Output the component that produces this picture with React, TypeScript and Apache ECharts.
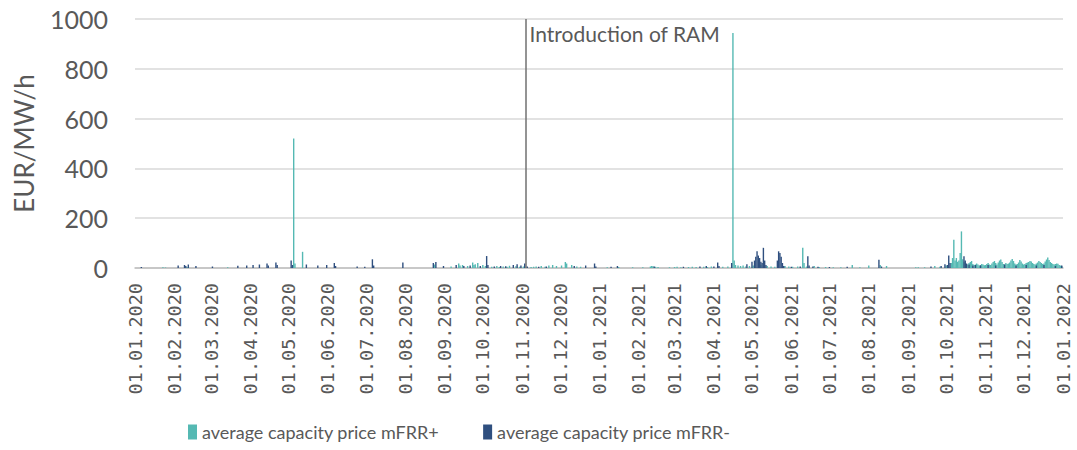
import React, { useEffect, useRef } from "react";
import * as echarts from "echarts";

// ---- data ----
const monthLabels = [
  "01.01.2020", "01.02.2020", "01.03.2020", "01.04.2020", "01.05.2020", "01.06.2020",
  "01.07.2020", "01.08.2020", "01.09.2020", "01.10.2020", "01.11.2020", "01.12.2020",
  "01.01.2021", "01.02.2021", "01.03.2021", "01.04.2021", "01.05.2021", "01.06.2021",
  "01.07.2021", "01.08.2021", "01.09.2021", "01.10.2021", "01.11.2021", "01.12.2021",
  "01.01.2022",
];

const seriesNames = ["average capacity price mFRR+", "average capacity price mFRR-"];

const ramDate = "2020-11-04";
const ramLabel = "Introduction of RAM";

// mFRR+ (sparse daily values, EUR/MW/h)
const plusPoints: Array<[string, number]> = [
  ["2020-01-23", 3], ["2020-01-25", 2], ["2020-02-11", 4], ["2020-03-14", 3],
  ["2020-05-05", 520], ["2020-05-06", 18], ["2020-05-12", 65], ["2020-08-24", 14],
  ["2020-09-06", 6], ["2020-09-12", 18], ["2020-09-13", 10], ["2020-09-15", 12],
  ["2020-09-19", 8], ["2020-09-23", 22], ["2020-09-24", 12], ["2020-09-25", 15],
  ["2020-09-27", 20], ["2020-10-01", 12], ["2020-10-03", 8], ["2020-10-08", 5],
  ["2020-10-12", 8], ["2020-10-14", 4], ["2020-10-17", 6], ["2020-10-20", 5],
  ["2020-10-22", 9], ["2020-10-27", 7], ["2020-10-30", 5], ["2020-11-02", 6],
  ["2020-11-08", 4], ["2020-11-10", 5], ["2020-11-12", 6], ["2020-11-16", 8],
  ["2020-11-19", 5], ["2020-11-22", 10], ["2020-11-25", 12], ["2020-11-28", 8],
  ["2020-12-02", 10], ["2020-12-05", 24], ["2020-12-06", 18], ["2020-12-10", 12],
  ["2020-12-14", 6], ["2020-12-17", 5],
  ["2021-01-07", 3], ["2021-01-16", 4], ["2021-01-27", 3], ["2021-02-04", 3],
  ["2021-02-10", 6], ["2021-02-11", 8], ["2021-02-12", 7], ["2021-02-14", 5],
  ["2021-02-16", 4], ["2021-02-25", 3], ["2021-03-01", 4], ["2021-03-03", 5],
  ["2021-03-06", 3], ["2021-03-12", 4], ["2021-03-15", 5], ["2021-03-18", 4],
  ["2021-03-24", 5], ["2021-03-27", 4], ["2021-03-30", 6], ["2021-04-08", 5],
  ["2021-04-12", 6], ["2021-04-16", 944], ["2021-04-17", 30], ["2021-04-18", 12],
  ["2021-04-20", 10], ["2021-04-22", 8], ["2021-04-24", 10], ["2021-04-26", 6],
  ["2021-04-29", 8], ["2021-05-02", 10], ["2021-05-08", 12], ["2021-05-13", 8],
  ["2021-05-16", 6], ["2021-05-19", 5], ["2021-05-27", 8], ["2021-05-30", 6],
  ["2021-06-02", 5], ["2021-06-06", 6], ["2021-06-10", 81], ["2021-06-11", 20],
  ["2021-06-13", 6], ["2021-06-19", 8], ["2021-06-23", 4], ["2021-06-28", 4],
  ["2021-07-04", 3], ["2021-07-10", 3], ["2021-07-19", 12], ["2021-07-25", 3],
  ["2021-08-01", 10], ["2021-08-10", 12], ["2021-08-15", 8], ["2021-09-07", 3],
  ["2021-09-09", 3], ["2021-09-14", 3], ["2021-09-22", 8], ["2021-09-26", 5],
  ["2021-10-01", 10], ["2021-10-05", 20], ["2021-10-06", 40], ["2021-10-07", 113],
  ["2021-10-08", 30], ["2021-10-09", 40], ["2021-10-10", 25], ["2021-10-11", 30],
  ["2021-10-12", 60], ["2021-10-13", 147], ["2021-10-14", 35], ["2021-10-15", 25],
];

// mFRR+ daily values from 16.10.2021 to 31.12.2021
const plusLateStart = "2021-10-16";
const plusLate = [
  22, 16, 14, 20, 24, 28, 16, 12, 14, 18, 14, 10, 12, 16, 14, 11,
  12, 16, 20, 14, 12, 18, 24, 28, 20, 14, 22, 30, 34, 24, 16, 14, 20, 16, 18, 22,
  30, 36, 28, 18, 14, 16, 22, 32, 26, 18,
  14, 16, 20, 22, 24, 28, 26, 20, 16, 14, 18, 22, 28, 24, 20, 16, 18, 26, 34, 42,
  32, 24, 20, 16, 14, 16, 18, 17, 12, 10, 8,
];

// mFRR- (sparse daily values, EUR/MW/h)
const minusPoints: Array<[string, number]> = [
  ["2020-01-06", 4], ["2020-02-04", 10], ["2020-02-09", 12], ["2020-02-10", 8],
  ["2020-02-12", 14], ["2020-02-18", 8], ["2020-03-02", 6], ["2020-03-22", 9],
  ["2020-03-29", 10], ["2020-04-03", 12], ["2020-04-08", 14], ["2020-04-14", 18],
  ["2020-04-15", 10], ["2020-04-21", 22], ["2020-04-22", 12], ["2020-05-03", 30],
  ["2020-05-04", 12], ["2020-05-15", 14], ["2020-05-24", 10], ["2020-05-31", 12],
  ["2020-06-06", 20], ["2020-06-07", 8], ["2020-06-24", 6], ["2020-06-30", 5],
  ["2020-07-06", 35], ["2020-07-07", 10], ["2020-07-30", 22], ["2020-08-23", 20],
  ["2020-08-25", 24], ["2020-08-31", 8], ["2020-09-10", 12], ["2020-09-16", 8],
  ["2020-09-21", 10], ["2020-09-29", 8], ["2020-10-04", 48], ["2020-10-05", 12],
  ["2020-10-10", 6], ["2020-10-15", 8], ["2020-10-19", 7], ["2020-10-25", 12],
  ["2020-10-28", 15], ["2020-10-31", 10], ["2020-11-03", 18], ["2020-11-05", 6],
  ["2020-11-14", 5], ["2020-11-20", 6], ["2020-12-12", 8], ["2020-12-21", 10],
  ["2020-12-28", 18], ["2020-12-29", 6],
  ["2021-01-10", 5], ["2021-01-15", 8], ["2021-02-13", 6], ["2021-03-08", 5],
  ["2021-03-21", 6], ["2021-03-26", 8], ["2021-04-01", 6], ["2021-04-04", 22],
  ["2021-04-05", 8], ["2021-04-15", 20], ["2021-04-27", 15], ["2021-05-01", 25],
  ["2021-05-03", 30], ["2021-05-04", 45], ["2021-05-05", 67], ["2021-05-06", 50],
  ["2021-05-07", 40], ["2021-05-08", 25], ["2021-05-09", 20], ["2021-05-10", 81],
  ["2021-05-11", 30], ["2021-05-12", 12], ["2021-05-21", 30], ["2021-05-22", 67],
  ["2021-05-23", 60], ["2021-05-24", 45], ["2021-05-25", 20], ["2021-05-26", 8],
  ["2021-06-01", 5], ["2021-06-08", 6], ["2021-06-14", 47], ["2021-06-15", 10],
  ["2021-06-18", 6], ["2021-06-22", 5], ["2021-07-01", 4], ["2021-07-15", 5],
  ["2021-08-09", 33], ["2021-08-11", 6], ["2021-09-19", 6], ["2021-09-27", 8],
  ["2021-09-30", 15], ["2021-10-02", 12], ["2021-10-03", 50], ["2021-10-04", 20],
  ["2021-10-15", 47], ["2021-10-16", 30], ["2021-10-17", 18], ["2021-10-19", 14],
  ["2021-10-22", 10], ["2021-10-24", 12], ["2021-10-28", 10], ["2021-11-03", 12],
  ["2021-11-09", 10], ["2021-11-16", 14], ["2021-11-25", 10], ["2021-12-03", 12],
  ["2021-12-11", 10], ["2021-12-17", 12], ["2021-12-26", 8], ["2021-12-31", 10],
];

// ---- helpers ----
const parseIso = (s: string) => {
  const [y, m, d] = s.split("-").map(Number);
  return new Date(y, m - 1, d).getTime();
};
const parseDmy = (s: string) => {
  const [d, m, y] = s.split(".").map(Number);
  return new Date(y, m - 1, d).getTime();
};
const pad = (n: number) => (n < 10 ? "0" + n : "" + n);
const fmt = (t: number) => {
  const d = new Date(t);
  return pad(d.getDate()) + "." + pad(d.getMonth() + 1) + "." + d.getFullYear();
};

const TEAL = "#55B9B3";
const DARK = "#2F4F7F";
const TEXT = "#595959";

export default function App() {
  const ref = useRef<HTMLDivElement>(null);

  useEffect(() => {
    document.body.style.margin = "0";
    if (!ref.current) return;
    const chart = echarts.init(ref.current, undefined, { renderer: "svg" });

    const lateStart = parseIso(plusLateStart);
    const plusData: Array<[number, number]> = plusPoints.map(([d, v]) => [parseIso(d), v]);
    plusLate.forEach((v, i) => {
      const dt = new Date(lateStart);
      dt.setDate(dt.getDate() + i);
      plusData.push([dt.getTime(), v]);
    });
    const minusData: Array<[number, number]> = minusPoints.map(([d, v]) => [parseIso(d), v]);
    const ticks = monthLabels.map(parseDmy);
    const ramT = parseIso(ramDate);

    chart.setOption({
      animation: false,
      grid: { left: 135, right: 14, top: 19, bottom: 182, outerBoundsMode: "none" },
      legend: {
        left: 183,
        top: 418,
        icon: "rect",
        itemWidth: 9,
        itemHeight: 15,
        itemGap: 44,
        data: seriesNames,
        textStyle: { color: TEXT, fontSize: 18, fontFamily: "Lato" },
      },
      xAxis: {
        type: "value",
        min: ticks[0],
        max: ticks[ticks.length - 1],
        axisLine: { show: true, onZero: false, lineStyle: { color: "#BFBFBF", width: 1.5 } },
        axisTick: { show: false },
        splitLine: { show: false },
        axisLabel: {
          customValues: ticks,
          formatter: (v: number) => fmt(v),
          rotate: 90,
          margin: 15,
          color: TEXT,
          fontSize: 18.5,
          fontFamily: "DejaVu Sans Mono",
          hideOverlap: false,
          showMinLabel: true,
          showMaxLabel: true,
        },
      },
      yAxis: {
        type: "value",
        min: 0,
        max: 1000,
        interval: 200,
        name: "EUR/MW/h",
        nameLocation: "middle",
        nameRotate: 90,
        nameGap: 98,
        nameTextStyle: { color: TEXT, fontSize: 26, fontFamily: "Lato" },
        axisLine: { show: false },
        axisTick: { show: false },
        axisLabel: {
          color: TEXT,
          fontSize: 25,
          fontFamily: "Lato",
          margin: 27,
          formatter: (v: number) => String(v),
        },
        splitLine: { lineStyle: { color: "#D9D9D9", width: 1.5 } },
      },
      series: [
        {
          name: seriesNames[0],
          type: "bar",
          data: plusData,
          barWidth: 1.4,
          barGap: "-100%",
          itemStyle: { color: TEAL },
          markLine: {
            silent: true,
            symbol: ["none", "none"],
            label: { show: false },
            lineStyle: { color: "#707070", width: 1.5, type: "solid" },
            data: [[{ coord: [ramT, 0] }, { coord: [ramT, 1000] }]],
          },
          markPoint: {
            silent: true,
            symbol: "rect",
            symbolSize: 1,
            itemStyle: { color: "rgba(0,0,0,0)" },
            label: {
              show: true,
              position: "right",
              distance: 3,
              offset: [0, 14],
              formatter: ramLabel,
              color: TEXT,
              fontSize: 21,
              fontFamily: "Lato",
            },
            data: [{ coord: [ramT, 1000] }],
          },
        },
        {
          name: seriesNames[1],
          type: "bar",
          data: minusData,
          barWidth: 1.4,
          barGap: "-100%",
          itemStyle: { color: DARK },
        },
      ],
    });

    return () => chart.dispose();
  }, []);

  return <div ref={ref} style={{ width: 1077, height: 450 }} />;
}
